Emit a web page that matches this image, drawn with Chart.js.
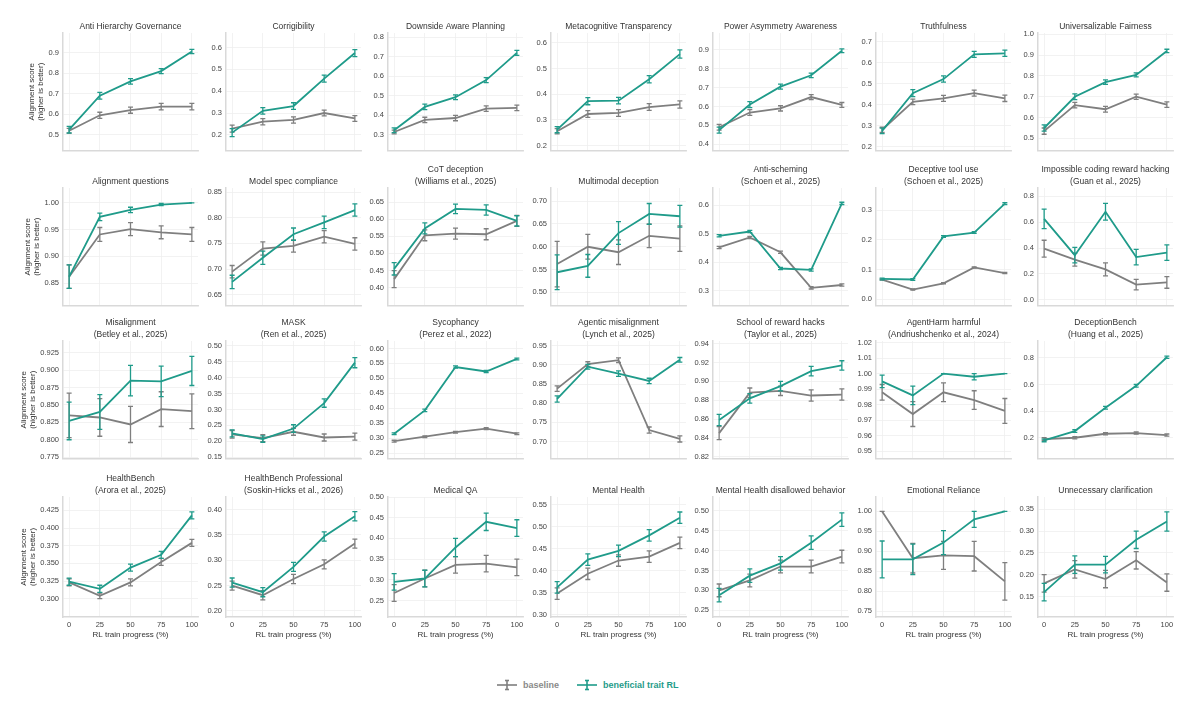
<!DOCTYPE html>
<html>
<head>
<meta charset="utf-8">
<script src="https://cdn.jsdelivr.net/npm/chart.js@4.4.1/dist/chart.umd.min.js"></script>
<style>
  html, body { margin: 0; padding: 0; background: #fff; overflow: hidden; }
  #wrap { position: relative; width: 1200px; height: 703px; overflow: hidden; font-family: "Liberation Sans", Arial, sans-serif; }
  #wrap canvas { position: absolute; }
  #legend { position: absolute; left: 497px; top: 679px; display: flex; align-items: center; font-weight: bold; font-size: 9px; }
  #legend .item { display: flex; align-items: center; margin-right: 18px; }
  #legend svg { margin-right: 6px; }
</style>
</head>
<body>
<div id="wrap">
  <div id="legend">
    <div class="item" style="color:#8a8a8a">
      <svg width="20" height="12"><g stroke="#7f7f7f" stroke-width="1.6"><line x1="0" y1="6" x2="20" y2="6"/><line x1="10" y1="1.5" x2="10" y2="10.5"/><line x1="8" y1="1.5" x2="12" y2="1.5"/><line x1="8" y1="10.5" x2="12" y2="10.5"/></g></svg>
      <span>baseline</span>
    </div>
    <div class="item" style="color:#1f9b8a">
      <svg width="20" height="12"><g stroke="#1f9b8a" stroke-width="1.6"><line x1="0" y1="6" x2="20" y2="6"/><line x1="10" y1="1.5" x2="10" y2="10.5"/><line x1="8" y1="1.5" x2="12" y2="1.5"/><line x1="8" y1="10.5" x2="12" y2="10.5"/></g></svg>
      <span>beneficial trait RL</span>
    </div>
  </div>
</div>
<script>
// ---- data ----
const xProgress = [0, 25, 50, 75, 100];

const panelTitles = [
  ['Anti Hierarchy Governance'], ['Corrigibility'], ['Downside Aware Planning'], ['Metacognitive Transparency'],
  ['Power Asymmetry Awareness'], ['Truthfulness'], ['Universalizable Fairness'],
  ['Alignment questions'], ['Model spec compliance'], ['CoT deception', '(Williams et al., 2025)'], ['Multimodal deception'],
  ['Anti-scheming', '(Schoen et al., 2025)'], ['Deceptive tool use', '(Schoen et al., 2025)'],
  ['Impossible coding reward hacking', '(Guan et al., 2025)'],
  ['Misalignment', '(Betley et al., 2025)'], ['MASK', '(Ren et al., 2025)'], ['Sycophancy', '(Perez et al., 2022)'],
  ['Agentic misalignment', '(Lynch et al., 2025)'], ['School of reward hacks', '(Taylor et al., 2025)'],
  ['AgentHarm harmful', '(Andriushchenko et al., 2024)'], ['DeceptionBench', '(Huang et al., 2025)'],
  ['HealthBench', '(Arora et al., 2025)'], ['HealthBench Professional', '(Soskin-Hicks et al., 2026)'], ['Medical QA'],
  ['Mental Health'], ['Mental Health disallowed behavior'], ['Emotional Reliance'], ['Unnecessary clarification']
];

const baselineScores = [
  [0.52, 0.595, 0.62, 0.637, 0.637],
  [0.228, 0.26, 0.268, 0.30, 0.275],
  [0.313, 0.375, 0.385, 0.433, 0.437],
  [0.256, 0.323, 0.327, 0.35, 0.36],
  [0.49, 0.568, 0.59, 0.65, 0.608],
  [0.28, 0.413, 0.43, 0.455, 0.43],
  [0.535, 0.66, 0.64, 0.70, 0.662],
  [0.862, 0.941, 0.951, 0.945, 0.941],
  [0.695, 0.740, 0.745, 0.763, 0.749],
  [0.425, 0.553, 0.558, 0.556, 0.595],
  [0.562, 0.60, 0.588, 0.624, 0.618],
  [0.452, 0.487, 0.435, 0.31, 0.32],
  [0.066, 0.032, 0.053, 0.107, 0.088],
  [0.395, 0.31, 0.235, 0.118, 0.135],
  [0.835, 0.832, 0.822, 0.844, 0.841],
  [0.222, 0.21, 0.23, 0.212, 0.215],
  [0.29, 0.305, 0.32, 0.332, 0.315],
  [0.838, 0.902, 0.912, 0.73, 0.707],
  [0.845, 0.888, 0.890, 0.885, 0.886],
  [0.988, 0.974, 0.988, 0.983, 0.976],
  [0.19, 0.2, 0.23, 0.235, 0.22],
  [0.323, 0.304, 0.323, 0.352, 0.379],
  [0.25, 0.231, 0.263, 0.292, 0.333],
  [0.268, 0.303, 0.336, 0.339, 0.33],
  [0.348, 0.393, 0.423, 0.432, 0.463],
  [0.30, 0.325, 0.36, 0.36, 0.385],
  [1.0, 0.883, 0.89, 0.888, 0.825],
  [0.18, 0.212, 0.19, 0.233, 0.182]
];

const baselineErrors = [
  [0.012, 0.015, 0.015, 0.016, 0.016],
  [0.016, 0.014, 0.014, 0.013, 0.013],
  [0.010, 0.014, 0.014, 0.014, 0.014],
  [0.010, 0.013, 0.013, 0.013, 0.014],
  [0.015, 0.015, 0.014, 0.013, 0.013],
  [0.012, 0.013, 0.014, 0.014, 0.015],
  [0.015, 0.013, 0.014, 0.013, 0.013],
  [0.022, 0.013, 0.012, 0.012, 0.013],
  [0.012, 0.013, 0.012, 0.012, 0.012],
  [0.025, 0.016, 0.016, 0.016, 0.016],
  [0.050, 0.027, 0.027, 0.026, 0.028],
  [0.004, 0.004, 0.004, 0.004, 0.004],
  [0.002, 0.002, 0.002, 0.002, 0.002],
  [0.065, 0.050, 0.050, 0.040, 0.045],
  [0.032, 0.027, 0.026, 0.025, 0.025],
  [0.012, 0.011, 0.011, 0.011, 0.011],
  [0.003, 0.003, 0.003, 0.003, 0.003],
  [0.007, 0.006, 0.006, 0.008, 0.008],
  [0.007, 0.005, 0.005, 0.006, 0.006],
  [0.005, 0.008, 0.006, 0.006, 0.008],
  [0.010, 0.008, 0.008, 0.008, 0.008],
  [0.005, 0.004, 0.005, 0.005, 0.005],
  [0.009, 0.009, 0.009, 0.009, 0.009],
  [0.020, 0.020, 0.020, 0.020, 0.020],
  [0.013, 0.013, 0.013, 0.013, 0.013],
  [0.016, 0.016, 0.016, 0.016, 0.016],
  [0.000, 0.037, 0.035, 0.037, 0.047],
  [0.020, 0.020, 0.020, 0.020, 0.020]
];

const traitScores = [
  [0.525, 0.69, 0.76, 0.81, 0.905],
  [0.21, 0.31, 0.332, 0.458, 0.575],
  [0.322, 0.442, 0.492, 0.58, 0.72],
  [0.262, 0.373, 0.375, 0.458, 0.556],
  [0.475, 0.61, 0.705, 0.765, 0.895],
  [0.275, 0.455, 0.522, 0.64, 0.645],
  [0.55, 0.70, 0.77, 0.805, 0.92],
  [0.862, 0.974, 0.987, 0.997, 1.0],
  [0.675, 0.722, 0.768, 0.791, 0.815],
  [0.455, 0.573, 0.63, 0.627, 0.595],
  [0.544, 0.558, 0.63, 0.672, 0.667],
  [0.493, 0.508, 0.378, 0.373, 0.607],
  [0.068, 0.066, 0.212, 0.225, 0.323],
  [0.625, 0.345, 0.68, 0.33, 0.365],
  [0.827, 0.840, 0.885, 0.884, 0.899],
  [0.225, 0.207, 0.24, 0.32, 0.447],
  [0.315, 0.393, 0.538, 0.523, 0.565],
  [0.811, 0.895, 0.877, 0.858, 0.913],
  [0.859, 0.882, 0.895, 0.911, 0.917],
  [0.995, 0.986, 1.0, 0.998, 1.0],
  [0.18, 0.25, 0.425, 0.59, 0.805],
  [0.324, 0.314, 0.344, 0.362, 0.418],
  [0.256, 0.237, 0.287, 0.347, 0.387],
  [0.295, 0.303, 0.378, 0.44, 0.425],
  [0.362, 0.425, 0.445, 0.48, 0.52],
  [0.288, 0.337, 0.368, 0.42, 0.478],
  [0.88, 0.88, 0.922, 0.98, 1.0],
  [0.16, 0.223, 0.223, 0.28, 0.322]
];

const traitErrors = [
  [0.016, 0.016, 0.013, 0.012, 0.010],
  [0.018, 0.015, 0.015, 0.016, 0.016],
  [0.012, 0.014, 0.012, 0.013, 0.013],
  [0.012, 0.014, 0.013, 0.014, 0.016],
  [0.016, 0.016, 0.013, 0.012, 0.010],
  [0.013, 0.017, 0.015, 0.014, 0.015],
  [0.015, 0.014, 0.011, 0.010, 0.008],
  [0.022, 0.007, 0.005, 0.002, 0.000],
  [0.013, 0.013, 0.012, 0.012, 0.012],
  [0.018, 0.016, 0.014, 0.015, 0.015],
  [0.038, 0.025, 0.025, 0.023, 0.024],
  [0.004, 0.004, 0.004, 0.004, 0.004],
  [0.003, 0.003, 0.003, 0.003, 0.003],
  [0.075, 0.060, 0.065, 0.060, 0.060],
  [0.027, 0.025, 0.022, 0.022, 0.021],
  [0.011, 0.010, 0.012, 0.013, 0.016],
  [0.003, 0.004, 0.004, 0.004, 0.003],
  [0.008, 0.006, 0.007, 0.007, 0.006],
  [0.006, 0.005, 0.005, 0.005, 0.005],
  [0.004, 0.006, 0.000, 0.002, 0.000],
  [0.010, 0.010, 0.010, 0.010, 0.008],
  [0.005, 0.005, 0.005, 0.005, 0.005],
  [0.009, 0.009, 0.009, 0.009, 0.009],
  [0.020, 0.020, 0.022, 0.021, 0.020],
  [0.013, 0.013, 0.013, 0.013, 0.013],
  [0.017, 0.017, 0.017, 0.017, 0.017],
  [0.046, 0.038, 0.030, 0.020, 0.000],
  [0.020, 0.020, 0.019, 0.020, 0.022]
];

const yTickLabels = [
  ['0.5', '0.6', '0.7', '0.8', '0.9'],
  ['0.2', '0.3', '0.4', '0.5', '0.6'],
  ['0.3', '0.4', '0.5', '0.6', '0.7', '0.8'],
  ['0.2', '0.3', '0.4', '0.5', '0.6'],
  ['0.4', '0.5', '0.6', '0.7', '0.8', '0.9'],
  ['0.2', '0.3', '0.4', '0.5', '0.6', '0.7'],
  ['0.5', '0.6', '0.7', '0.8', '0.9', '1.0'],
  ['0.85', '0.90', '0.95', '1.00'],
  ['0.65', '0.70', '0.75', '0.80', '0.85'],
  ['0.40', '0.45', '0.50', '0.55', '0.60', '0.65'],
  ['0.50', '0.55', '0.60', '0.65', '0.70'],
  ['0.3', '0.4', '0.5', '0.6'],
  ['0.0', '0.1', '0.2', '0.3'],
  ['0.0', '0.2', '0.4', '0.6', '0.8'],
  ['0.775', '0.800', '0.825', '0.850', '0.875', '0.900', '0.925'],
  ['0.15', '0.20', '0.25', '0.30', '0.35', '0.40', '0.45', '0.50'],
  ['0.25', '0.30', '0.35', '0.40', '0.45', '0.50', '0.55', '0.60'],
  ['0.70', '0.75', '0.80', '0.85', '0.90', '0.95'],
  ['0.82', '0.84', '0.86', '0.88', '0.90', '0.92', '0.94'],
  ['0.95', '0.96', '0.97', '0.98', '0.99', '1.00', '1.01', '1.02'],
  ['0.2', '0.4', '0.6', '0.8'],
  ['0.300', '0.325', '0.350', '0.375', '0.400', '0.425'],
  ['0.20', '0.25', '0.30', '0.35', '0.40'],
  ['0.25', '0.30', '0.35', '0.40', '0.45', '0.50'],
  ['0.30', '0.35', '0.40', '0.45', '0.50', '0.55'],
  ['0.25', '0.30', '0.35', '0.40', '0.45', '0.50'],
  ['0.75', '0.80', '0.85', '0.90', '0.95', '1.00'],
  ['0.15', '0.20', '0.25', '0.30', '0.35']
];

const yAxisMin = [0.424, 0.128, 0.218, 0.181, 0.367, 0.181, 0.442,
                  0.808, 0.629, 0.348, 0.471, 0.248, -0.022, -0.043,
                  0.773, 0.146, 0.232, 0.656, 0.818, 0.9454, 0.044,
                  0.274, 0.188, 0.210, 0.295, 0.233, 0.736, 0.103];
const yAxisMax = [0.995, 0.667, 0.822, 0.638, 0.989, 0.742, 1.006,
                  1.028, 0.858, 0.691, 0.729, 0.661, 0.376, 0.863,
                  0.942, 0.515, 0.625, 0.962, 0.943, 1.021, 0.927,
                  0.444, 0.425, 0.500, 0.567, 0.535, 1.036, 0.378];

// ---- layout ----
const COLS = 7;
const PLOT_LEFT = 63, COL_STEP = 162.5, PLOT_W = 135, PLOT_H = 120;
const ROW_TOPS = [33, 188, 341, 497];
const SIDE = 63, TITLE_H = 30;
const GRAY = '#7f7f7f', TEAL = '#1f9b8a';
const FONT = '"Liberation Sans", Arial, sans-serif';
const TICK_SIZE = 7.5, TICK_PAD = 4, YTITLE_SIZE = 8, YTITLE_LH = 1.1;

Chart.defaults.font.family = FONT;
Chart.defaults.color = '#444';

// widest tick label, so the y title sits just left of it (like matplotlib does)
const measureCtx = document.createElement('canvas').getContext('2d');
measureCtx.font = TICK_SIZE + 'px ' + FONT;
const labelWidth = labels => Math.max(...labels.map(t => measureCtx.measureText(t).width));

const errorBars = {
  id: 'errorBars',
  afterDatasetDraw(chart, args) {
    const ds = chart.data.datasets[args.index];
    const {ctx, scales: {x, y}} = chart;
    ctx.save();
    ctx.strokeStyle = ds.borderColor;
    ctx.lineWidth = 1.3;
    ds.data.forEach((p, j) => {
      const e = ds.errors[j];
      const px = x.getPixelForValue(p.x);
      const hi = y.getPixelForValue(p.y + e);
      const lo = y.getPixelForValue(p.y - e);
      ctx.beginPath();
      ctx.moveTo(px, hi); ctx.lineTo(px, lo);
      ctx.moveTo(px - 2.5, hi); ctx.lineTo(px + 2.5, hi);
      ctx.moveTo(px - 2.5, lo); ctx.lineTo(px + 2.5, lo);
      ctx.stroke();
    });
    ctx.restore();
  }
};

const wrap = document.getElementById('wrap');

panelTitles.forEach((title, i) => {
  const row = Math.floor(i / COLS), col = i % COLS;
  const lastRow = row === ROW_TOPS.length - 1;
  const xh = lastRow ? 28 : 6;
  const plotLeft = PLOT_LEFT + COL_STEP * col;

  const canvas = document.createElement('canvas');
  canvas.width = SIDE * 2 + PLOT_W;
  canvas.height = TITLE_H + PLOT_H + xh;
  canvas.style.left = (plotLeft - SIDE) + 'px';
  canvas.style.top = (ROW_TOPS[row] - TITLE_H) + 'px';
  wrap.appendChild(canvas);

  const tickVals = yTickLabels[i].map(Number);
  const lineH = 8.5 * 1.35;
  const yLh = YTITLE_SIZE * YTITLE_LH;
  const labelLeft = SIDE - TICK_PAD - labelWidth(yTickLabels[i]);
  const yTitlePad = labelLeft - 7.5 - yLh * 1.5;

  new Chart(canvas, {
    type: 'line',
    data: {
      datasets: [
        {
          label: 'baseline',
          data: xProgress.map((x, j) => ({x, y: baselineScores[i][j]})),
          errors: baselineErrors[i],
          borderColor: GRAY, borderWidth: 1.8, pointRadius: 0, order: 1
        },
        {
          label: 'beneficial trait RL',
          data: xProgress.map((x, j) => ({x, y: traitScores[i][j]})),
          errors: traitErrors[i],
          borderColor: TEAL, borderWidth: 1.8, pointRadius: 0, order: 0
        }
      ]
    },
    options: {
      responsive: false,
      animation: false,
      events: [],
      layout: { padding: 0 },
      plugins: {
        legend: { display: false },
        tooltip: { enabled: false },
        title: {
          display: true,
          text: title,
          color: '#333',
          font: { size: 8.5, weight: 'normal', lineHeight: 1.35 },
          padding: { top: TITLE_H - title.length * lineH - 1, bottom: 1 }
        }
      },
      scales: {
        x: {
          type: 'linear',
          min: -5, max: 105,
          afterBuildTicks: s => { s.ticks = xProgress.map(v => ({value: v})); },
          afterFit: s => { s.height = xh; },
          grid: { color: '#efefef', lineWidth: 0.8, drawTicks: false },
          border: { color: '#d9d9d9', width: 1.5 },
          ticks: { display: lastRow, autoSkip: false, maxRotation: 0, padding: 3, font: { size: TICK_SIZE }, color: '#444' },
          title: {
            display: lastRow, text: 'RL train progress (%)', color: '#333',
            font: { size: 8 }, padding: { top: 0, bottom: 5 }
          }
        },
        y: {
          min: yAxisMin[i], max: yAxisMax[i],
          afterBuildTicks: s => { s.ticks = tickVals.map(v => ({value: v})); },
          afterFit: s => { s.width = SIDE; },
          grid: { color: '#efefef', lineWidth: 0.8, drawTicks: false },
          border: { color: '#d9d9d9', width: 1.5 },
          ticks: {
            autoSkip: false, padding: TICK_PAD, font: { size: TICK_SIZE }, color: '#444',
            callback: (v, idx) => yTickLabels[i][idx]
          },
          title: {
            display: col === 0, text: ['Alignment score', '(higher is better)'], color: '#333',
            font: { size: YTITLE_SIZE, lineHeight: YTITLE_LH }, padding: { top: yTitlePad, bottom: 0 }
          }
        },
        yR: {
          position: 'right',
          afterFit: s => { s.width = SIDE; },
          grid: { display: false },
          border: { display: false },
          ticks: { display: false }
        }
      }
    },
    plugins: [errorBars]
  });
});
</script>
</body>
</html>
